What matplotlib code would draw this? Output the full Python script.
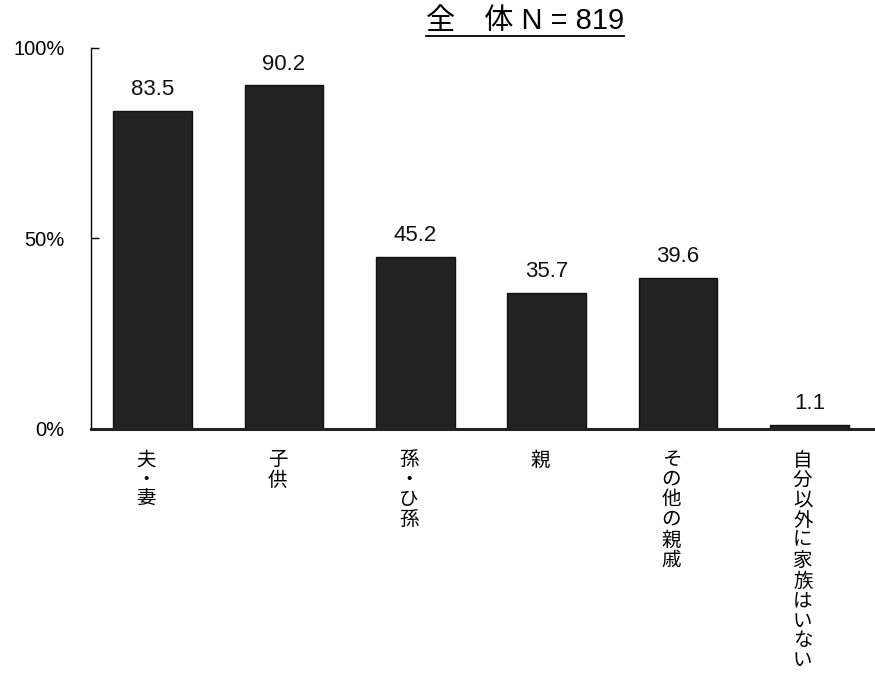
import matplotlib
matplotlib.use("Agg")
import matplotlib.pyplot as plt
from matplotlib.lines import Line2D

plt.rcParams['font.family'] = ['Liberation Sans', 'Noto Sans CJK JP', 'DejaVu Sans']

# data
categories = ["夫・妻", "子供", "孫・ひ孫", "親", "その他の親戚", "自分以外に家族はいない"]
values = [83.5, 90.2, 45.2, 35.7, 39.6, 1.1]
title = "全　体 N = 819"

fig = plt.figure(figsize=(8.75, 6.84), dpi=100)
ax = fig.add_axes([0.104, 0.373, 0.896, 0.557])

x = range(len(categories))
bars = ax.bar(x, values, width=0.6, color="#222222", edgecolor="#111111", linewidth=1)

for b, v in zip(bars, values):
    ax.text(b.get_x() + b.get_width() / 2, v + 2.8, f"{v:.1f}",
            ha="center", va="bottom", fontsize=16, color="#111111")

ax.set_xlim(-0.47, 5.5)
ax.set_ylim(0, 100)
ax.set_yticks([0, 50, 100])
ax.set_yticklabels(["0%", "50%", "100%"], fontsize=14.5)
ax.tick_params(axis="y", direction="in", length=6, pad=19, width=1)
ax.set_xticks([])

for s in ["top", "right"]:
    ax.spines[s].set_visible(False)
ax.spines["left"].set_linewidth(1)
ax.spines["bottom"].set_linewidth(2.2)
ax.spines["bottom"].set_color("#222222")

# vertical (stacked) category labels
for i, c in enumerate(categories):
    ax.text(i - 0.05, -6, "\n".join(c), ha="center", va="top", fontsize=14,
            linespacing=1.2, clip_on=False)

t = fig.text(0.6, 0.97, title, ha="center", va="center", fontsize=21)
fig.canvas.draw()
bb = t.get_window_extent()
fig.add_artist(Line2D([bb.x0 / fig.bbox.width, bb.x1 / fig.bbox.width],
                      [(bb.y0 - 1) / fig.bbox.height] * 2, color="black", lw=1.3))

fig.savefig("out.png", dpi=100)
